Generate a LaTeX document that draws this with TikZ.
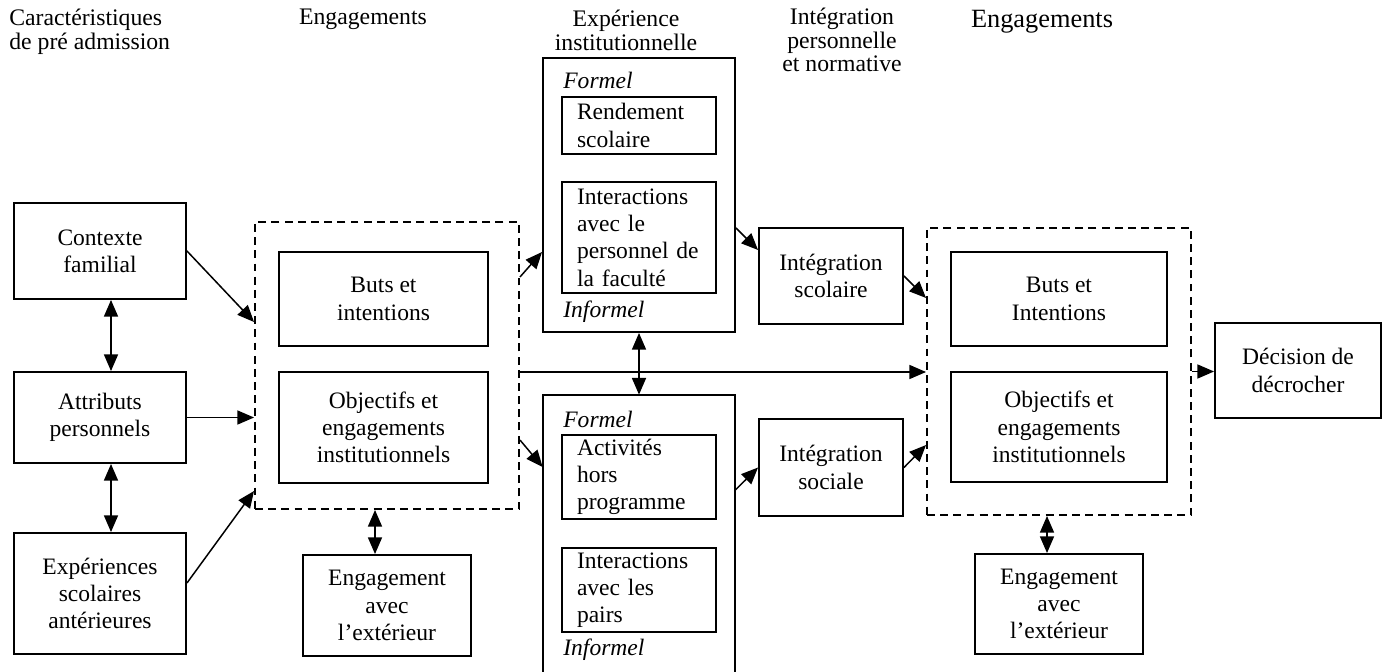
\documentclass[tikz,border=0pt]{standalone}
\usepackage{fontspec}
\setmainfont{Liberation Serif}
\usetikzlibrary{arrows.meta,calc,positioning}
\tikzset{>={Triangle[length=9.5pt,width=8pt]}}

\begin{document}
\begin{tikzpicture}[x=0.02cm,y=-0.02cm,
  box/.style={draw,line width=1.1pt,inner sep=0pt,align=center,font=\fontsize{13.4}{15.5}\selectfont},
  inbox/.style={box,align=left,text width=2.48cm,inner xsep=0.3cm},
  dashbox/.style={draw,line width=1.1pt,dash pattern=on 4.5pt off 3pt,inner sep=0pt},
  boxsize/.style 2 args={minimum width=#1*0.02cm,minimum height=#2*0.02cm},
  head/.style={inner sep=0pt,align=center,font=\fontsize{13.5}{13.3}\selectfont},
  tag/.style={inner sep=0pt,anchor=base west,font=\fontsize{13.4}{15.5}\selectfont\itshape},
  link/.style={->,line width=0.85pt},
  twoway/.style={<->,line width=0.85pt}]

\useasboundingbox (0,0) rectangle (1388,672);

% column headings
\node[head,anchor=north west,align=left] (hcar) at (9,9) {Caractéristiques\\de pré admission};
\node[head,anchor=base] (heng) at (363,25) {Engagements};
\node[head,anchor=north] (hexp) at (626,10) {Expérience\\institutionnelle};
\node[head,anchor=north] (hint) at (842,8) {Intégration\\personnelle\\et normative};
\node[head,anchor=base,font=\fontsize{15}{18}\selectfont] (heng2) at (1042,28) {Engagements};

% pre admission
\node[box,boxsize={172}{96}] (ctx) at (100,251) {Contexte\\familial};
\node[box,boxsize={172}{91}] (attr) at (100,417.5) {Attributs\\personnels};
\node[box,boxsize={172}{121}] (expsc) at (100,593.5) {Expériences\\scolaires\\antérieures};

% first engagements
\node[dashbox,boxsize={264}{287}] (dashL) at (387,365.5) {};
\node[box,boxsize={209}{94}] (butsL) at (383.5,299) {Buts et\\intentions};
\node[box,boxsize={209}{111}] (objL) at (383.5,427.5) {Objectifs et\\engagements\\institutionnels};
\node[box,boxsize={168}{101}] (engL) at (387,605.5) {Engagement\\avec\\l’extérieur};

% institutional experience
\node[box,boxsize={192}{274}] (expT) at (639,195) {};
\node[tag] (formT) at (563,89) {Formel};
\node[inbox,boxsize={154}{57}] (rend) at (639,125.5) {Rendement\\scolaire};
\node[inbox,boxsize={154}{111}] (intfac) at (639,237.5) {Interactions\\avec le\\personnel de\\la faculté};
\node[tag] (infT) at (563,317) {Informel};

\node[inner sep=0pt,boxsize={192}{277}] (expB) at (639,533.5) {};
\draw[line width=1.1pt] (expB.south west) |- (expB.north east) -- (expB.south east);
\node[tag] (formB) at (563,427) {Formel};
\node[inbox,boxsize={154}{84}] (activ) at (639,477) {Activités\\hors\\programme};
\node[inbox,boxsize={154}{84}] (pairs) at (639,590) {Interactions\\avec les\\pairs};
\node[tag] (infB) at (563,655) {Informel};

% integration
\node[box,boxsize={144}{96}] (intsco) at (831,276) {Intégration\\scolaire};
\node[box,boxsize={144}{97}] (intsoc) at (831,467.5) {Intégration\\sociale};

% second engagements
\node[dashbox,boxsize={264}{287}] (dashR) at (1059,371.5) {};
\node[box,boxsize={216}{94}] (butsR) at (1059,299) {Buts et\\Intentions};
\node[box,boxsize={216}{110}] (objR) at (1059,427) {Objectifs et\\engagements\\institutionnels};
\node[box,boxsize={168}{100}] (engR) at (1059,604) {Engagement\\avec\\l’extérieur};
\node[box,boxsize={166}{95}] (dec) at (1298,370.5) {Décision de\\décrocher};

% connectors
\draw[link] (ctx.east) -- ($(dashL.west)+(0,-43.5)$);
\draw[link] (attr.east) -- (attr.east -| dashL.west);
\draw[link] ($(expsc.east)+(0,-10.5)$) -- ($(dashL.west)+(0,125.5)$);
\draw[twoway] ($(ctx.south)+(11,0)$) -- ($(attr.north)+(11,0)$);
\draw[twoway] ($(attr.south)+(11,0)$) -- ($(expsc.north)+(11,0)$);
\draw[twoway] ($(dashL.south)+(-12,0)$) -- ($(engL.north)+(-12,0)$);
\draw[link] ($(dashL.east)+(0,-88.5)$) -- ($(expT.west)+(0,57)$);
\draw[link] ($(dashL.east)+(0,74.5)$) -- ($(expB.west)+(0,-66.5)$);
\draw[twoway] (expT.south) -- (expB.north);
\draw[link] ($(dashL.east)+(0,6.5)$) coordinate (midL) -- (midL -| dashR.west);
\draw[link] ($(expT.east)+(0,33)$) -- ($(intsco.west)+(0,-26)$);
\draw[link] ($(expB.east)+(0,-43.5)$) -- (intsoc.west);
\draw[link] (intsco.east) -- ($(dashR.west)+(0,-73.5)$);
\draw[link] (intsoc.east) -- ($(dashR.west)+(0,73.5)$);
\draw[twoway] ($(dashR.south)+(-12,0)$) -- ($(engR.north)+(-12,0)$);
\draw[link] (dashR.east) -- (dashR.east -| dec.west);
\end{tikzpicture}
\end{document}
